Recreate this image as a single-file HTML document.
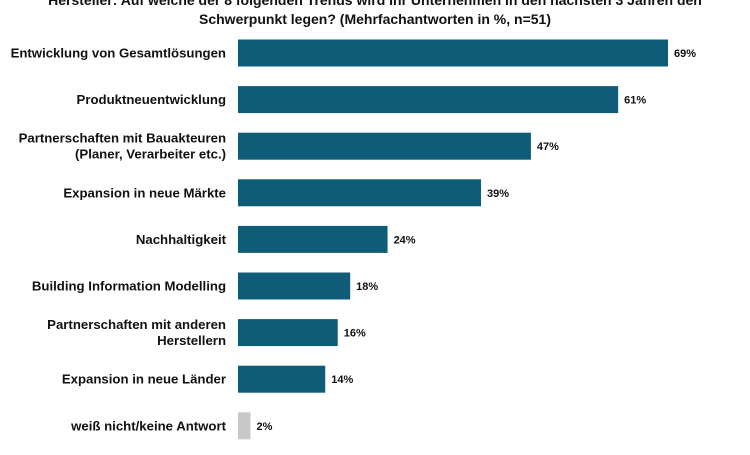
<!DOCTYPE html>
<html><head><meta charset="utf-8"><style>
body{margin:0;background:#fff;width:750px;height:450px;overflow:hidden;font-family:"Liberation Sans",Arial,sans-serif}
svg text{font-family:"Liberation Sans",Arial,sans-serif;font-weight:bold;fill:#111}
</style></head><body>
<svg id="chart" width="750" height="450">
<text x="375" y="5" text-anchor="middle" font-size="14">Hersteller: Auf welche der 8 folgenden Trends wird Ihr Unternehmen in den nächsten 3 Jahren den</text>
<text x="375" y="24" text-anchor="middle" font-size="14">Schwerpunkt legen? (Mehrfachantworten in %, n=51)</text>
<g id="bars"></g>
</svg>
<script>
const categories=[["Entwicklung von Gesamtlösungen"],["Produktneuentwicklung"],["Partnerschaften mit Bauakteuren","(Planer, Verarbeiter etc.)"],["Expansion in neue Märkte"],["Nachhaltigkeit"],["Building Information Modelling"],["Partnerschaften mit anderen","Herstellern"],["Expansion in neue Länder"],["weiß nicht/keine Antwort"]];
const values=[69,61,47,39,24,18,16,14,2];
const labels=["69%","61%","47%","39%","24%","18%","16%","14%","2%"];
const x0=238, pxPer=430/69, y0=53, step=46.6, bh=27;
const xs=v=>x0+v*pxPer, ys=i=>y0+i*step;
const g=document.getElementById('bars'), NS="http://www.w3.org/2000/svg";
values.forEach((v,i)=>{
  const cy=ys(i);
  const r=document.createElementNS(NS,'rect');
  r.setAttribute('x',x0);r.setAttribute('y',cy-bh/2);r.setAttribute('width',xs(v)-x0);r.setAttribute('height',bh);
  r.setAttribute('fill',i===values.length-1?'#c8c8c8':'#0e5c78');
  
  
  g.appendChild(r);
  const t=document.createElementNS(NS,'text');
  t.setAttribute('x',xs(v)+6);t.setAttribute('y',cy+4);t.setAttribute('font-size','11');t.textContent=labels[i];
  
  
  g.appendChild(t);
  const lines=categories[i];
  lines.forEach((l,j)=>{
    const c=document.createElementNS(NS,'text');
    c.setAttribute('x',226);c.setAttribute('text-anchor','end');c.setAttribute('font-size','13.2');
    c.setAttribute('y',cy+4.5+(j-(lines.length-1)/2)*16);c.textContent=l;
    
    
    g.appendChild(c);
  });
});
</script>
</body></html>
